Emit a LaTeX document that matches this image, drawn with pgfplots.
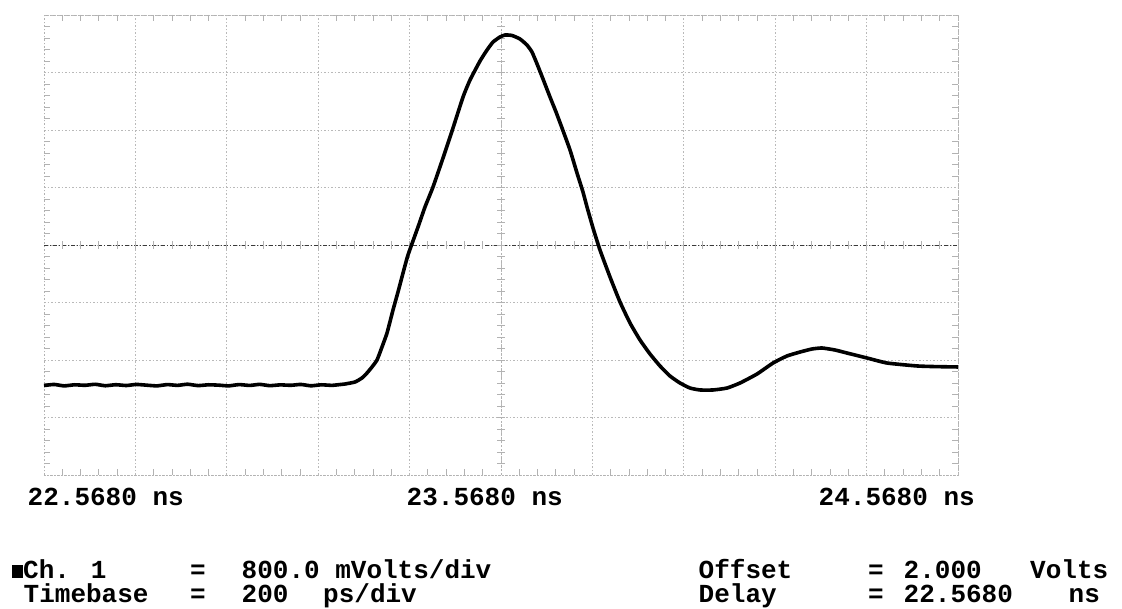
\documentclass[border=0pt]{standalone}
\usepackage{pgfplots}
\pgfplotsset{compat=1.18}
\usepackage{fontspec}
\newfontfamily\scopefont{Liberation Mono}

\pgfplotstableread{
x y
22.568 0.045
22.590 0.060
22.612 0.040
22.635 0.055
22.658 0.048
22.680 0.062
22.702 0.042
22.725 0.056
22.748 0.045
22.770 0.060
22.792 0.050
22.815 0.040
22.838 0.058
22.860 0.047
22.882 0.063
22.905 0.044
22.928 0.055
22.950 0.050
22.972 0.040
22.995 0.058
23.018 0.046
23.040 0.061
23.062 0.043
23.085 0.054
23.108 0.048
23.130 0.060
23.152 0.041
23.175 0.055
23.198 0.047
23.215 0.058
23.2266 0.066
23.2485 0.094
23.2638 0.150
23.2748 0.219
23.2857 0.303
23.2967 0.400
23.3076 0.581
23.3186 0.776
23.3317 1.096
23.3426 1.346
23.3536 1.610
23.3645 1.861
23.3864 2.250
23.4017 2.529
23.4192 2.807
23.4411 3.210
23.4630 3.628
23.4849 4.059
23.5002 4.296
23.5221 4.560
23.5374 4.713
23.5505 4.824
23.5658 4.894
23.5768 4.922
23.5921 4.915
23.6096 4.866
23.6249 4.782
23.6358 4.685
23.6468 4.520
23.6599 4.310
23.6752 4.059
23.6884 3.850
23.7015 3.628
23.7190 3.322
23.7343 3.002
23.7474 2.737
23.7562 2.529
23.7693 2.237
23.7846 1.930
23.8065 1.555
23.8284 1.207
23.8503 0.915
23.8722 0.678
23.8941 0.483
23.9159 0.317
23.9378 0.177
23.9597 0.080
23.9816 0.010
24.0035 -0.017
24.0319 -0.017
24.0625 0.010
24.0910 0.080
24.1282 0.205
24.1632 0.358
24.1938 0.456
24.2223 0.511
24.2485 0.553
24.2704 0.567
24.2989 0.539
24.3251 0.497
24.3689 0.428
24.4127 0.358
24.4783 0.317
24.5200 0.308
24.5680 0.303
}\trace

\begin{document}
\begin{tikzpicture}
\useasboundingbox (0,0) rectangle (1122bp,609bp);
\fill[white] (0,0) rectangle (1122bp,609bp);
\begin{axis}[
  at={(44bp,134bp)}, anchor=south west,
  scale only axis, width=914bp, height=460bp,
  xmin=22.568, xmax=24.568, ymin=-1.2, ymax=5.2,
  xtick={22.568,22.768,22.968,23.168,23.368,23.568,23.768,23.968,24.168,24.368,24.568},
  ytick={-1.2,-0.4,0.4,1.2,2.0,2.8,3.6,4.4,5.2},
  minor x tick num=4, minor y tick num=4,
  xticklabels={}, yticklabels={},
  grid=major,
  major grid style={gray!55, dash pattern=on 1.5bp off 2bp, line width=0.9bp},
  axis line style={gray!60, dash pattern=on 1.5bp off 2bp, line width=0.9bp},
  tick style={gray!60, line width=0.8bp},
  major tick length=0bp, minor tick length=6bp,
  tick align=inside, tick pos=both,
  clip=false,
]
\draw[gray!45!black, dash pattern=on 4bp off 2bp on 1bp off 2bp, line width=0.9bp] (rel axis cs:0,0.5) -- (rel axis cs:1,0.5);
\draw[gray!60, dash pattern=on 2bp off 2bp, line width=0.9bp] (rel axis cs:0.5,0) -- (rel axis cs:0.5,1);
\pgfplotsinvokeforeach{1,...,49}{\draw[gray!60, line width=0.8bp] (rel axis cs:{#1/50},0.5) ++(0bp,-4bp) -- ++(0bp,8bp);}
\pgfplotsinvokeforeach{1,...,39}{\draw[gray!60, line width=0.8bp] (rel axis cs:0.5,{#1/40}) ++(-4bp,0bp) -- ++(8bp,0bp);}
\addplot[black, line width=3.6bp, line join=round, mark=none, smooth, tension=0.3] table[x=x,y=y] {\trace};
\end{axis}
\begin{scope}[every node/.style={anchor=base west, inner sep=0pt, font=\scopefont\bfseries\fontsize{26bp}{26bp}\selectfont}]
\node at (27.5bp,103bp) {22.5680 ns};
\node at (406.5bp,103bp) {23.5680 ns};
\node at (818.5bp,103bp) {24.5680 ns};
\node at (12bp,31bp) {\rule[0.5bp]{11bp}{13bp}Ch. 1};
\node at (190bp,31bp) {=};
\node at (241.5bp,31bp) {800.0 mVolts/div};
\node at (23.5bp,7bp) {Timebase};
\node at (190bp,7bp) {=};
\node at (241.5bp,7bp) {200};
\node at (323bp,7bp) {ps/div};
\node at (698.5bp,31bp) {Offset};
\node at (868bp,31bp) {=};
\node at (903.5bp,31bp) {2.000};
\node at (1030bp,31bp) {Volts};
\node at (698.5bp,7bp) {Delay};
\node at (868bp,7bp) {=};
\node at (903.5bp,7bp) {22.5680};
\node at (1068.5bp,7bp) {ns};
\end{scope}
\end{tikzpicture}
\end{document}
